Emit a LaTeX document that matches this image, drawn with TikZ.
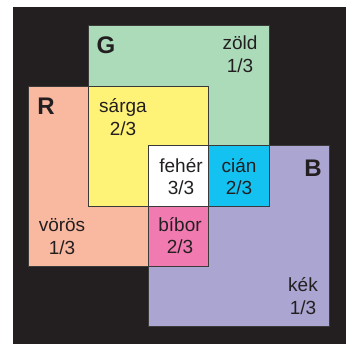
\documentclass[tikz,border=0pt]{standalone}
\usepackage{fontspec}
\setmainfont{Liberation Sans}
\definecolor{bg}{HTML}{231F20}
\definecolor{zold}{HTML}{ACDBBA}
\definecolor{voros}{HTML}{F9B8A0}
\definecolor{kek}{HTML}{ABA5D1}
\definecolor{sarga}{HTML}{FFF377}
\definecolor{cian}{HTML}{14C2F2}
\definecolor{bibor}{HTML}{F17BB1}
\definecolor{edge}{HTML}{3A3A3A}
\definecolor{ink}{HTML}{231F20}
\begin{document}
\begin{tikzpicture}[x=1pt,y=-1pt,
  region/.style={line width=1pt, draw=edge},
  lbl/.style={anchor=base, inner sep=0pt, text=ink, font=\fontsize{19}{22}\selectfont},
  big/.style={anchor=base, inner sep=0pt, text=ink, font=\fontsize{24}{28}\selectfont\bfseries}]
\useasboundingbox (0,0) rectangle (348,344);
\fill[bg] (13,7) rectangle (346,344);
% the three primaries
\fill[zold]  (88,26)   rectangle (269,207);
\fill[voros] (28,87)   rectangle (208,267);
\fill[kek]   (148,146) rectangle (329,327);
% pairwise and triple overlaps
\fill[sarga] (88,87)   rectangle (208,207);
\fill[cian]  (148,146) rectangle (269,207);
\fill[bibor] (148,146) rectangle (208,267);
\fill[white] (148,146) rectangle (208,207);
% outlines
\draw[region] (88,26)   rectangle (269,207);
\draw[region] (28,87)   rectangle (208,267);
\draw[region] (148,146) rectangle (329,327);
% labels
\node[big] (G) at (106,54) {G};
\node[big] (R) at (46,115) {R};
\node[big] (B) at (313,177) {B};
\node[lbl] (zoldA) at (240,50) {zöld};
\node[lbl] (zoldB) at (240,73) {1/3};
\node[lbl] (sargaA) at (123,113) {sárga};
\node[lbl] (sargaB) at (123,136) {2/3};
\node[lbl] (feherA) at (181,173) {fehér};
\node[lbl] (feherB) at (181,195) {3/3};
\node[lbl] (cianA) at (239,173) {cián};
\node[lbl] (cianB) at (239,195) {2/3};
\node[lbl] (biborA) at (180,232) {bíbor};
\node[lbl] (biborB) at (180,254) {2/3};
\node[lbl] (vorosA) at (62,232) {vörös};
\node[lbl] (vorosB) at (62,255) {1/3};
\node[lbl] (kekA) at (303,292) {kék};
\node[lbl] (kekB) at (303,315) {1/3};
\end{tikzpicture}
\end{document}
